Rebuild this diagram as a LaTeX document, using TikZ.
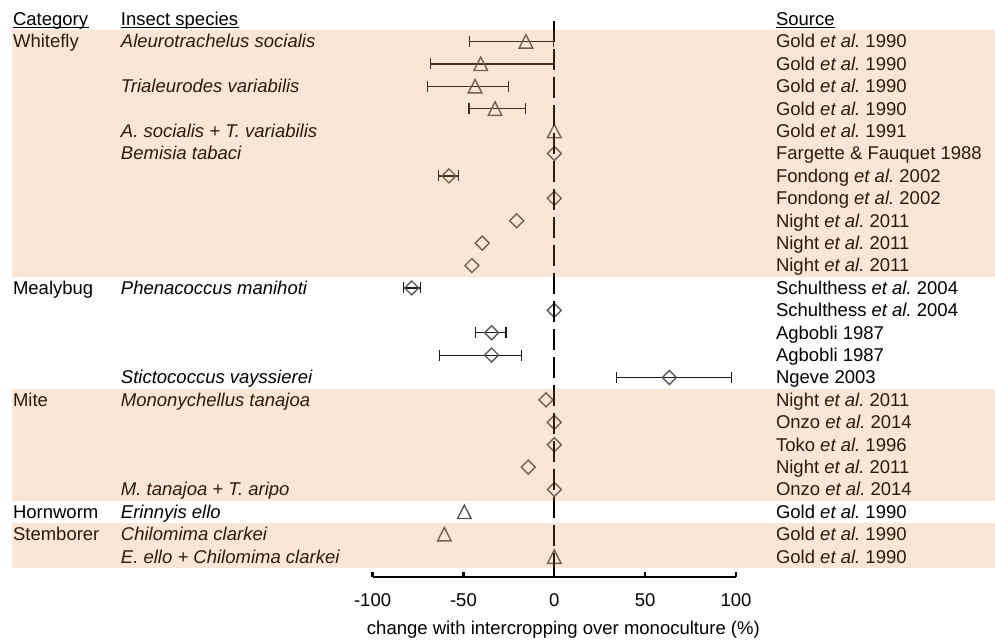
\documentclass[tikz,border=0pt]{standalone}
\usepackage{fontspec}
\setmainfont{Liberation Sans}
\usetikzlibrary{arrows.meta}
\frenchspacing

\definecolor{accent}{RGB}{237,125,49}
\definecolor{mkgray}{RGB}{89,89,89}
\definecolor{bargray}{RGB}{25,25,25}
\newcommand{\etal}{\textit{et al.}}

\tikzset{
	lbl/.style = {anchor=base west, inner sep=0pt, font=\fontsize{9.25}{11}\selectfont},
	txt/.style = {lbl, yshift=-3.2pt},
	errbar/.style = {bargray, line width=0.6pt, {Bar[width=5.5pt,line width=0.6pt]}-{Bar[width=5.5pt,line width=0.6pt]}},
	band/.style = {fill=accent, fill opacity=0.2},
	tri/.pic = {\draw[mkgray, line width=0.7pt] (-3.4pt,-3.3pt) -- (3.4pt,-3.3pt) -- (0,3.4pt) -- cycle;},
	dia/.pic = {\draw[mkgray, line width=0.7pt] (-3.5pt,0) -- (0,3.5pt) -- (3.5pt,0) -- (0,-3.5pt) -- cycle;}
}

\begin{document}
\begin{tikzpicture}[x=0.9085pt, y=-11.2pt]

	\useasboundingbox (-305.06,-1.853) rectangle (242.54,26.72);

	\node[txt] (hcat) at (-298.1,-1) {Category};
	\node[txt] (hspc) at (-238.7,-1) {Insect species};
	\node[txt] (hsrc) at (121.8,-1) {Source};
	\foreach \h in {hcat,hspc,hsrc}
		\draw[line width=0.5pt] ([yshift=-1pt]\h.base west) -- ([yshift=-1pt]\h.base east);

	\foreach \i/\c in {0/Whitefly,11/Mealybug,16/Mite,21/Hornworm,22/Stemborer}
		\node[txt] (cat\i) at (-298.1,\i) {\c};

	\foreach \i/\s in {0/Aleurotrachelus socialis,2/Trialeurodes variabilis,4/A. socialis + T. variabilis,
		5/Bemisia tabaci,11/Phenacoccus manihoti,15/Stictococcus vayssierei,16/Mononychellus tanajoa,
		20/M. tanajoa + T. aripo,21/Erinnyis ello,22/Chilomima clarkei,23/E. ello + Chilomima clarkei}
		\node[txt] (spc\i) at (-238.7,\i) {\textit{\s}};

	\foreach \i/\r in {0/Gold \etal{} 1990,1/Gold \etal{} 1990,2/Gold \etal{} 1990,3/Gold \etal{} 1990,
		4/Gold \etal{} 1991,5/Fargette \& Fauquet 1988,6/Fondong \etal{} 2002,7/Fondong \etal{} 2002,
		8/Night \etal{} 2011,9/Night \etal{} 2011,10/Night \etal{} 2011,11/Schulthess \etal{} 2004,
		12/Schulthess \etal{} 2004,13/Agbobli 1987,14/Agbobli 1987,15/Ngeve 2003,16/Night \etal{} 2011,
		17/Onzo \etal{} 2014,18/Toko \etal{} 1996,19/Night \etal{} 2011,20/Onzo \etal{} 2014,
		21/Gold \etal{} 1990,22/Gold \etal{} 1990,23/Gold \etal{} 1990}
		\node[txt] (src\i) at (121.8,\i) {\r};

	\foreach \i/\lo/\hi in {0/-46.8/0,1/-68.4/0,2/-69.9/-24.8,3/-47.3/-15.7,6/-64.2/-52.3,
		11/-83.4/-73.4,13/-43.8/-26.2,14/-63.5/-17.8,15/33.8/97.8}
		\draw[errbar] (\lo,\i) -- (\hi,\i);

	\foreach \i/\v in {0/-15.6,1/-40.5,2/-43.6,3/-32.6,4/0,21/-49.5,22/-60.5,23/0}
		\pic at (\v,\i) {tri};
	\foreach \i/\v in {5/0,6/-58,7/0,8/-20.7,9/-39.6,10/-45.3,11/-78.5,12/0,13/-34.5,14/-34.5,
		15/63.3,16/-4.6,17/0,18/0,19/-14.3,20/0}
		\pic at (\v,\i) {dia};

	\draw[line width=1.15pt, dash pattern=on 10.5pt off 3.5pt] (0,-0.93) -- (0,23.9);

	\draw[line width=1.15pt] (-100,23.9) -- (100,23.9);
	\foreach \t in {-100,-50,0,50,100}{
		\draw[line width=1.15pt] (\t,23.9) -- ++(0,2.5pt);
		\node[lbl, anchor=base] (tick\t) at (\t,25.23) {\t};
	}
	\node[lbl, anchor=base] (xtitle) at (5,26.45) {change with intercropping over monoculture (\%)};

	\fill[band] (-298.45,-0.5) rectangle (242.54,10.5);
	\fill[band] (-298.45,15.5) rectangle (242.54,20.5);
	\fill[band] (-298.45,21.5) rectangle (242.54,23.5);

\end{tikzpicture}
\end{document}
